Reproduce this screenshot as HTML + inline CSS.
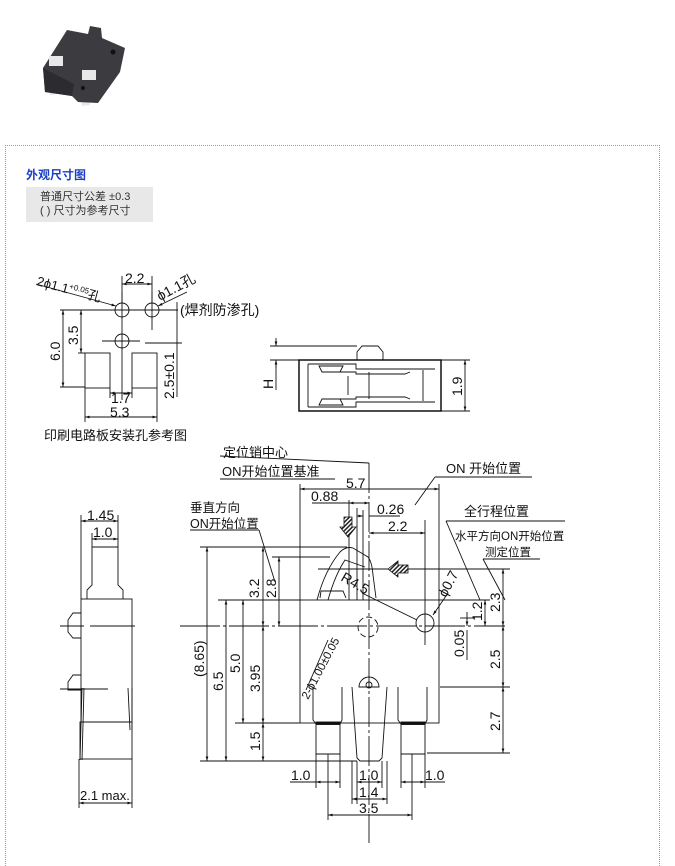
<!DOCTYPE html>
<html><head><meta charset="utf-8"><style>
html,body{margin:0;padding:0;background:#fff;}
body{width:675px;height:847px;position:relative;overflow:hidden;font-family:"Liberation Sans","Noto Sans CJK SC",sans-serif;}
.frame{position:absolute;left:5px;top:145px;width:653px;height:720px;border-top:1px dotted #999;border-left:1px dotted #999;border-right:1px dotted #999;}
.title{position:absolute;left:26px;top:166px;font-size:12px;font-weight:bold;color:#1a3fc4;}
.note{position:absolute;left:26px;top:187px;width:127px;height:35px;background:#e8e8e8;font-size:11px;color:#333;line-height:14px;padding:3px 0 0 14px;box-sizing:border-box;}
svg{position:absolute;left:0;top:0;}
svg text{font-family:"Liberation Sans","Noto Sans CJK SC",sans-serif;fill:#111;}
</style></head><body>
<div class="frame"></div>
<div class="title">外观尺寸图</div>
<div class="note">普通尺寸公差 ±0.3<br>( ) 尺寸为参考尺寸</div>
<svg width="675" height="847" viewBox="0 0 675 847">
<defs>
<marker id="a" viewBox="0 0 10 10" refX="10" refY="5" markerWidth="6" markerHeight="5" orient="auto-start-reverse"><path d="M0,2 L10,5 L0,8 z" fill="#111"/></marker>
<pattern id="h" width="3" height="3" patternUnits="userSpaceOnUse" patternTransform="rotate(45)"><rect width="3" height="3" fill="#fff"/><rect width="1.5" height="3" fill="#222"/></pattern>
</defs>
<!-- photo -->
<g>
<polygon points="48,87 50,95 58,94 56,86" fill="#e6e6e6"/>
<polygon points="80,97 82,106 90,105 88,96" fill="#e6e6e6"/>
<polygon points="43,68 67,30 88,34 90,26 101,28 102,38 125,48 120,72 98,103 78,102 72,96 45,92" fill="#3c3c40"/>
<polygon points="43,68 45,92 72,96 74,84" fill="#2c2c30"/>
<rect x="49" y="56" width="14" height="10" fill="#e8e8e8"/>
<rect x="82" y="70" width="14" height="10" fill="#e8e8e8"/>
<circle cx="113" cy="52" r="2.5" fill="#111"/>
<circle cx="83" cy="88" r="2" fill="#111"/>
</g>
<g fill="none" stroke="#111" stroke-width="0.9">
<circle cx="122" cy="310" r="7"/><circle cx="152" cy="310" r="7"/><circle cx="122" cy="341" r="7"/>
<line x1="60" y1="310" x2="178" y2="310"/><line x1="122" y1="292" x2="122" y2="400"/><line x1="152" y1="292" x2="152" y2="330"/>
<line x1="102" y1="341" x2="140" y2="341"/><line x1="145" y1="343" x2="182" y2="343"/>
<rect x="85" y="353" width="25" height="35"/><rect x="132" y="353" width="25" height="35"/>
<line x1="60" y1="387" x2="85" y2="387"/><line x1="78" y1="353" x2="85" y2="353"/>
<line x1="63" y1="310" x2="63" y2="387" marker-start="url(#a)" marker-end="url(#a)"/>
<line x1="81" y1="310" x2="81" y2="353" marker-start="url(#a)" marker-end="url(#a)"/>
<line x1="177" y1="302" x2="177" y2="397"/>
<line x1="122" y1="284" x2="152" y2="284" marker-start="url(#a)" marker-end="url(#a)"/>
<line x1="122" y1="276" x2="122" y2="303"/><line x1="152" y1="276" x2="152" y2="303"/>
<line x1="110" y1="388" x2="110" y2="398"/><line x1="132" y1="388" x2="132" y2="398"/>
<line x1="110" y1="393" x2="132" y2="393" marker-start="url(#a)" marker-end="url(#a)"/>
<line x1="85" y1="388" x2="85" y2="422"/><line x1="157" y1="388" x2="157" y2="422"/>
<line x1="85" y1="417" x2="157" y2="417" marker-start="url(#a)" marker-end="url(#a)"/>
<line x1="36" y1="284" x2="116" y2="306" marker-end="url(#a)"/>
<line x1="187" y1="292" x2="158" y2="306" marker-end="url(#a)"/>
<rect x="299" y="360" width="142" height="51" stroke-width="1.5"/>
<path d="M357,360 L357,352 L362,346 L378,346 L383,352 L383,360"/>
<path d="M308,364 L356,364 L356,369 L435,369 M308,407 L356,407 L356,402 L435,402 M308,364 L308,407"/>
<path d="M319,366 L343,366 L340,372 L322,372 Z M319,405 L343,405 L340,399 L322,399 Z"/>
<path d="M322,372 L356,372 L356,374 L405,374 L410,372 M322,399 L356,399 L356,397 L405,397 L410,399"/>
<line x1="348" y1="376" x2="348" y2="395"/><line x1="369" y1="372" x2="369" y2="399"/><line x1="423" y1="370" x2="423" y2="401"/>
<line x1="270" y1="346" x2="357" y2="346"/><line x1="270" y1="360" x2="299" y2="360"/>
<line x1="276" y1="338" x2="276" y2="346" marker-end="url(#a)"/><line x1="276" y1="368" x2="276" y2="360" marker-end="url(#a)"/>
<line x1="276" y1="360" x2="276" y2="390"/>
<line x1="441" y1="360" x2="470" y2="360"/><line x1="441" y1="411" x2="470" y2="411"/>
<line x1="465" y1="360" x2="465" y2="411" marker-start="url(#a)" marker-end="url(#a)"/>
<path d="M87,599 L87,590 L92,585 L92,547 L118,547 L118,585 L123,590 L123,599"/>
<rect x="81" y="599" width="51" height="123"/>
<rect x="80" y="722" width="52" height="37"/>
<path d="M81,613 L73,613 L68,620 L68,632 L73,638 L81,638"/>
<path d="M81,675 L73,675 L68,682 L68,690 L81,690"/>
<path d="M82,688 L80,760 M84,688 L82,760 M128,688 L130,730 M132,688 L132,730"/>
<line x1="60" y1="626" x2="84" y2="626"/><line x1="90" y1="626" x2="135" y2="626"/>
<line x1="60" y1="689" x2="108" y2="689"/>
<line x1="81" y1="515" x2="81" y2="599"/><line x1="118" y1="515" x2="118" y2="547"/><line x1="92" y1="533" x2="92" y2="547"/>
<line x1="81" y1="521" x2="118" y2="521" marker-start="url(#a)" marker-end="url(#a)"/>
<line x1="92" y1="539" x2="118" y2="539" marker-start="url(#a)" marker-end="url(#a)"/>
<line x1="79" y1="759" x2="79" y2="808"/><line x1="132" y1="759" x2="132" y2="808"/>
<line x1="79" y1="803" x2="132" y2="803" marker-start="url(#a)" marker-end="url(#a)"/>
<rect x="300" y="600" width="139" height="123"/>
<path d="M317,600 Q325,570 340,552 Q346,546 353,548 L368,557 Q372,562 373,575 L376,598"/>
<path d="M328,600 Q335,575 345,560 L365,567"/>
<path d="M320,598 L321,591 L343,591 L346,598"/>
<line x1="362" y1="593" x2="417" y2="620"/>
<circle cx="425" cy="623" r="9"/>
<circle cx="368" cy="627" r="10" stroke-dasharray="6,3"/>
<path d="M359,687 A10,10 0 0 1 379,687 Z"/><circle cx="369" cy="685" r="3"/>
<path d="M313,687 L313,720 L316,724 L316,754 L340,754 L340,724 L342,720 L342,687"/>
<rect x="316" y="722" width="24" height="2.5" fill="#111"/>
<path d="M398,687 L398,720 L401,724 L401,754 L425,754 L425,724 L427,720 L427,687"/>
<rect x="401" y="722" width="24" height="2.5" fill="#111"/>
<path d="M352,687 L357,758 L360,761 L379,761 L382,758 L387,687"/>
<line x1="369" y1="463" x2="369" y2="843" stroke-dasharray="30,3,3,3"/>
<line x1="180" y1="626" x2="505" y2="626" stroke-dasharray="40,3,3,3"/>
<line x1="425" y1="540" x2="425" y2="645"/>
<line x1="200" y1="547" x2="347" y2="547"/><line x1="218" y1="600" x2="300" y2="600"/><line x1="235" y1="723" x2="300" y2="723"/><line x1="200" y1="761" x2="357" y2="761"/><line x1="272" y1="557" x2="330" y2="557"/>
<line x1="207" y1="547" x2="207" y2="761" marker-start="url(#a)" marker-end="url(#a)"/>
<line x1="226" y1="600" x2="226" y2="761" marker-start="url(#a)" marker-end="url(#a)"/>
<line x1="243" y1="600" x2="243" y2="723" marker-start="url(#a)" marker-end="url(#a)"/>
<line x1="263" y1="547" x2="263" y2="626" marker-start="url(#a)" marker-end="url(#a)"/>
<line x1="279" y1="557" x2="279" y2="626" marker-start="url(#a)" marker-end="url(#a)"/>
<line x1="263" y1="626" x2="263" y2="723" marker-start="url(#a)" marker-end="url(#a)"/>
<line x1="263" y1="723" x2="263" y2="761" marker-start="url(#a)" marker-end="url(#a)"/>
<line x1="318" y1="569" x2="510" y2="569"/><line x1="440" y1="687" x2="510" y2="687"/><line x1="427" y1="753" x2="510" y2="753"/><line x1="439" y1="600" x2="490" y2="600"/>
<line x1="503" y1="569" x2="503" y2="626" marker-start="url(#a)" marker-end="url(#a)"/>
<line x1="503" y1="626" x2="503" y2="687" marker-start="url(#a)" marker-end="url(#a)"/>
<line x1="503" y1="687" x2="503" y2="753" marker-start="url(#a)" marker-end="url(#a)"/>
<line x1="485" y1="600" x2="485" y2="626" marker-start="url(#a)" marker-end="url(#a)"/>
<line x1="467" y1="612" x2="467" y2="626" marker-end="url(#a)"/><line x1="467" y1="660" x2="467" y2="630"/>
<line x1="460" y1="618" x2="475" y2="618"/>
<line x1="448" y1="593" x2="433" y2="615" marker-end="url(#a)"/>
<line x1="300" y1="484" x2="300" y2="600"/><line x1="439" y1="484" x2="439" y2="600"/>
<line x1="300" y1="489" x2="439" y2="489" marker-start="url(#a)" marker-end="url(#a)"/>
<line x1="349" y1="500" x2="349" y2="600"/><line x1="357" y1="508" x2="357" y2="600"/><line x1="363" y1="510" x2="363" y2="600"/>
<line x1="312" y1="503" x2="349" y2="503"/><line x1="349" y1="503" x2="369" y2="503" marker-start="url(#a)" marker-end="url(#a)"/>
<line x1="357" y1="516" x2="363" y2="516" marker-end="url(#a)"/><line x1="369" y1="516" x2="400" y2="516"/>
<line x1="369" y1="533" x2="425" y2="533" marker-start="url(#a)" marker-end="url(#a)"/>
<line x1="425" y1="520" x2="425" y2="540"/>
<line x1="220" y1="456" x2="369" y2="463"/>
<line x1="220" y1="479" x2="335" y2="479"/>
<line x1="190" y1="530" x2="259" y2="530"/><line x1="259" y1="530" x2="275" y2="582"/>
<line x1="435" y1="477" x2="532" y2="477"/><line x1="435" y1="477" x2="415" y2="505"/>
<line x1="446" y1="521" x2="565" y2="521"/><line x1="446" y1="521" x2="480" y2="600"/>
<line x1="483" y1="559" x2="540" y2="559"/><line x1="483" y1="559" x2="505" y2="600"/>
<line x1="306" y1="690" x2="328" y2="640"/>
<line x1="316" y1="754" x2="316" y2="788"/><line x1="340" y1="754" x2="340" y2="788"/>
<line x1="357" y1="761" x2="357" y2="804"/><line x1="382" y1="761" x2="382" y2="788"/>
<line x1="401" y1="754" x2="401" y2="788"/><line x1="425" y1="754" x2="425" y2="788"/>
<line x1="352" y1="761" x2="352" y2="804"/><line x1="387" y1="761" x2="387" y2="804"/>
<line x1="328" y1="754" x2="328" y2="820"/><line x1="412" y1="754" x2="412" y2="820"/>
<line x1="290" y1="782" x2="316" y2="782"/><line x1="316" y1="782" x2="340" y2="782" marker-start="url(#a)" marker-end="url(#a)"/>
<line x1="357" y1="782" x2="382" y2="782" marker-start="url(#a)" marker-end="url(#a)"/>
<line x1="401" y1="782" x2="425" y2="782" marker-start="url(#a)" marker-end="url(#a)"/><line x1="425" y1="782" x2="445" y2="782"/>
<line x1="352" y1="799" x2="387" y2="799" marker-start="url(#a)" marker-end="url(#a)"/>
<line x1="328" y1="815" x2="412" y2="815" marker-start="url(#a)" marker-end="url(#a)"/>
</g>
<path d="M344,517 L352,517 L352,527 L356,527 L348,537 L340,527 L344,527 Z" fill="url(#h)" stroke="#111" stroke-width="0.8"/>
<path d="M408,565 L398,565 L398,561 L388,569 L398,577 L398,573 L408,573 Z" fill="url(#h)" stroke="#111" stroke-width="0.8"/>
<g font-size="14">
<text x="36" y="285" font-size="13" transform="rotate(15 36 285)">2ϕ1.1<tspan font-size="8" dy="-5">+0.05</tspan><tspan font-size="13" dy="5">孔</tspan></text>
<text x="125" y="283">2.2</text>
<text x="160" y="301" transform="rotate(-28 160 301)">ϕ1.1孔</text>
<text x="180" y="315">(焊剂防渗孔)</text>
<text x="60" y="361" transform="rotate(-90 60 361)">6.0</text>
<text x="78" y="345" transform="rotate(-90 78 345)">3.5</text>
<text x="174" y="399" transform="rotate(-90 174 399)">2.5±0.1</text>
<text x="111" y="403">1.7</text>
<text x="110" y="417">5.3</text>
<text x="44" y="440" font-size="13">印刷电路板安装孔参考图</text>
<text x="273" y="389" transform="rotate(-90 273 389)">H</text>
<text x="462" y="396" transform="rotate(-90 462 396)">1.9</text>
<text x="87" y="520">1.45</text>
<text x="93" y="537">1.0</text>
<text x="80" y="800" font-size="13">2.1 max.</text>
<text x="223" y="457" font-size="13">定位销中心</text>
<text x="222" y="476" font-size="13">ON开始位置基准</text>
<text x="346" y="488">5.7</text>
<text x="311" y="501">0.88</text>
<text x="377" y="514">0.26</text>
<text x="388" y="531">2.2</text>
<text x="446" y="473" font-size="13">ON 开始位置</text>
<text x="190" y="512" font-size="12.5">垂直方向</text>
<text x="190" y="528" font-size="12.5">ON开始位置</text>
<text x="464" y="516" font-size="13">全行程位置</text>
<text x="455" y="540" font-size="11.5">水平方向ON开始位置</text>
<text x="485" y="556" font-size="11.5">测定位置</text>
<text x="340" y="580" transform="rotate(30 340 580)">R4.5</text>
<text x="446" y="598" transform="rotate(-62 446 598)">ϕ0.7</text>
<text x="259" y="598" transform="rotate(-90 259 598)">3.2</text>
<text x="276" y="598" transform="rotate(-90 276 598)">2.8</text>
<text x="204" y="677" transform="rotate(-90 204 677)">(8.65)</text>
<text x="223" y="691" transform="rotate(-90 223 691)">6.5</text>
<text x="240" y="673" transform="rotate(-90 240 673)">5.0</text>
<text x="260" y="692" transform="rotate(-90 260 692)">3.95</text>
<text x="260" y="751" transform="rotate(-90 260 751)">1.5</text>
<text x="308" y="700" font-size="11.5" transform="rotate(-62 308 700)">2-ϕ1.00±0.05</text>
<text x="482" y="621" transform="rotate(-90 482 621)">1.2</text>
<text x="500" y="612" transform="rotate(-90 500 612)">2.3</text>
<text x="464" y="657" transform="rotate(-90 464 657)">0.05</text>
<text x="500" y="669" transform="rotate(-90 500 669)">2.5</text>
<text x="500" y="731" transform="rotate(-90 500 731)">2.7</text>
<text x="291" y="780">1.0</text>
<text x="359" y="780">1.0</text>
<text x="425" y="780">1.0</text>
<text x="359" y="797">1.4</text>
<text x="359" y="813">3.5</text>
</g>
</svg>
</body></html>
